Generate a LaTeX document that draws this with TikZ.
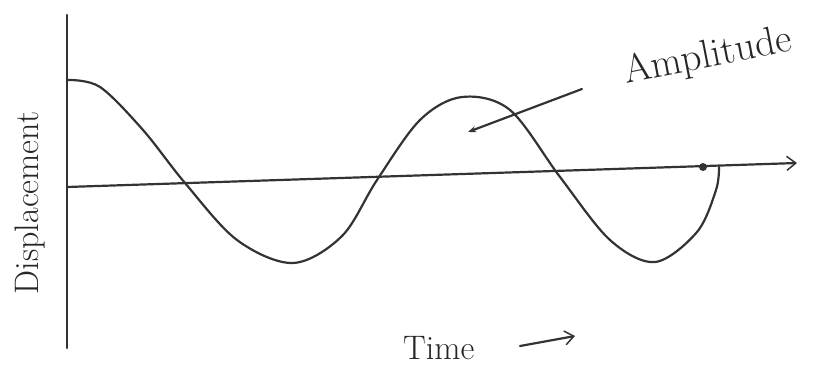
\documentclass[tikz,border=0pt]{standalone}
\usepackage{tikz}
\usepackage{xcolor}
\usetikzlibrary{arrows.meta}
\definecolor{pencil}{HTML}{333333}

\begin{document}
\begin{tikzpicture}[x=1pt,y=-1pt,line width=2.2pt,pencil,line cap=round,
  hand/.style={text=black!85,inner sep=0pt},
  tip/.style={-{Straight Barb[length=9pt,width=14pt,line width=1.5pt]}}]
\useasboundingbox (0,0) rectangle (820,367);
\coordinate (o) at (67,187); \coordinate (top) at (67,15); \coordinate (bot) at (67,348);
\coordinate (xend) at (797,163);
\draw (top) -- (bot); \draw[tip] (o) -- (xend);
\draw plot[smooth,tension=0.55] coordinates {(68,80) (100,87) (143,130) (185,183) (237,240) (293,263) (342,236) (377,180) (420,120) (462,97) (510,110) (560,177) (610,240) (655,262) (697,232) (716,190) (719,167)};
\fill (703,167) circle (4pt);
\node[hand,rotate=11] (amp) at (708,57) {\fontsize{40}{44}\selectfont Amplitude};
\node[hand,rotate=90] (disp) at (30,203) {\fontsize{34}{36}\selectfont Displacement};
\coordinate (ampfrom) at (582,89); \coordinate (ampto) at (468,132);
\draw[-{Stealth[length=8pt,width=6pt]}] (ampfrom) -- (ampto);
\node[hand,anchor=south west] (time) at (402,361) {\fontsize{34}{36}\selectfont Time};
\coordinate (tfrom) at (520,346); \coordinate (tto) at (575,336);
\draw[tip] (tfrom) -- (tto);
\end{tikzpicture}
\end{document}
